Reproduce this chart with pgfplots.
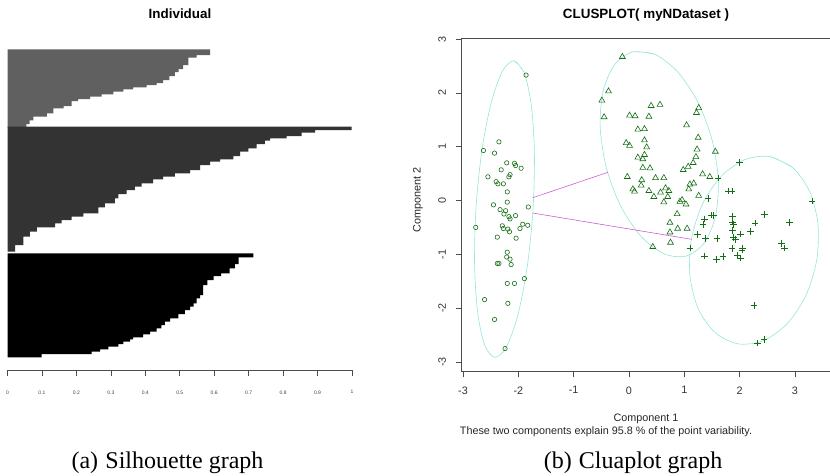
\documentclass[border=0pt]{standalone}
\usepackage{fontspec}
\setmainfont{Liberation Sans}
\newfontfamily\capfont{Liberation Serif}
\usepackage{pgfplots}
\pgfplotsset{compat=1.18}

\definecolor{silA}{RGB}{96,96,96}
\definecolor{silB}{RGB}{51,51,51}
\definecolor{ptgreen}{RGB}{20,110,20}
\definecolor{ellc}{RGB}{150,228,218}
\definecolor{linkc}{RGB}{205,95,205}

\begin{document}
\begin{tikzpicture}
\path[use as bounding box] (0pt,0pt) rectangle (830pt,-475pt);

% (a) silhouette widths, y = -(row of the bar)
\begin{axis}[
  at={(7.5pt,-370pt)}, anchor=south west,
  scale only axis, width=344.5pt, height=330pt,
  xmin=0, xmax=1, ymin=-370, ymax=-40,
  axis line style={draw=none},
  ytick=\empty,
  tick pos=left,
  xtick={0,0.1,0.2,0.3,0.4,0.5,0.6,0.7,0.8,0.9,1},
  xticklabels={0,0.1,0.2,0.3,0.4,0.5,0.6,0.7,0.8,0.9,1},
  tick align=outside, major tick length=6pt,
  major tick style={draw=black!70, line width=0.7pt},
  xticklabel style={font=\fontsize{5}{6}\selectfont, text=black!75},
  xticklabel shift=11pt,
  clip=false,
]
% axis line and its ticks
\addplot[black!70, line width=0.7pt] coordinates {(0,-370) (1,-370)};
\addplot[only marks, mark=|, mark size=3pt, black!70, mark options={line width=0.7pt}] coordinates {
  (0,-373) (0.1,-373) (0.2,-373) (0.3,-373) (0.4,-373) (0.5,-373)
  (0.6,-373) (0.7,-373) (0.8,-373) (0.9,-373) (1,-373)
};
\addplot[fill=silA, draw=none] coordinates {
  (0,-49.3) (0.588,-49.3) (0.588,-55) (0.549,-55) (0.549,-57.5) (0.525,-57.5)
  (0.525,-65) (0.510,-65) (0.510,-69) (0.497,-69) (0.497,-72) (0.486,-72)
  (0.486,-76) (0.470,-76) (0.470,-80) (0.452,-80) (0.452,-83) (0.433,-83)
  (0.433,-85) (0.404,-85) (0.404,-87.3) (0.365,-87.3) (0.365,-89.3) (0.336,-89.3)
  (0.336,-91.7) (0.307,-91.7) (0.307,-94.3) (0.273,-94.3) (0.273,-96.7) (0.240,-96.7)
  (0.240,-99) (0.205,-99) (0.205,-101) (0.186,-101) (0.186,-106) (0.163,-106)
  (0.163,-108.3) (0.133,-108.3) (0.133,-113.3) (0.114,-113.3) (0.114,-116.7) (0.075,-116.7)
  (0.075,-120.3) (0.064,-120.3) (0.064,-124) (0.055,-124) (0.055,-127.5) (0,-127.5)
};
\addplot[fill=silB, draw=none] coordinates {
  (0,-126.7) (0.999,-126.7) (0.999,-130) (0.893,-130) (0.893,-132.7) (0.854,-132.7)
  (0.854,-136) (0.810,-136) (0.810,-138.3) (0.762,-138.3) (0.762,-140.7) (0.747,-140.7)
  (0.747,-144) (0.723,-144) (0.723,-148.3) (0.699,-148.3) (0.699,-151.7) (0.675,-151.7)
  (0.675,-156) (0.656,-156) (0.656,-159.3) (0.617,-159.3) (0.617,-161.7) (0.588,-161.7)
  (0.588,-165) (0.559,-165) (0.559,-170) (0.530,-170) (0.530,-173.3) (0.486,-173.3)
  (0.486,-176.7) (0.452,-176.7) (0.452,-179.3) (0.423,-179.3) (0.423,-183.3) (0.389,-183.3)
  (0.389,-186.7) (0.370,-186.7) (0.370,-190) (0.346,-190) (0.346,-194) (0.322,-194)
  (0.322,-198.3) (0.312,-198.3) (0.312,-203.3) (0.283,-203.3) (0.283,-207.3) (0.264,-207.3)
  (0.264,-213.3) (0.220,-213.3) (0.220,-216.7) (0.186,-216.7) (0.186,-220) (0.157,-220)
  (0.157,-223.3) (0.138,-223.3) (0.138,-227.3) (0.085,-227.3) (0.085,-231.7) (0.065,-231.7)
  (0.065,-236.7) (0.046,-236.7) (0.046,-245) (0.022,-245) (0.022,-251.7) (0,-251.7)
};
\addplot[fill=black, draw=none] coordinates {
  (0,-253.3) (0.714,-253.3) (0.714,-257.3) (0.671,-257.3) (0.671,-264) (0.660,-264)
  (0.660,-268.3) (0.645,-268.3) (0.645,-273.3) (0.620,-273.3) (0.620,-276) (0.598,-276)
  (0.598,-280) (0.580,-280) (0.580,-285) (0.568,-285) (0.568,-295) (0.559,-295)
  (0.559,-298.3) (0.549,-298.3) (0.549,-303.3) (0.540,-303.3) (0.540,-306.7) (0.530,-306.7)
  (0.530,-310) (0.515,-310) (0.515,-314) (0.496,-314) (0.496,-318.3) (0.472,-318.3)
  (0.472,-321.7) (0.457,-321.7) (0.457,-325) (0.447,-325) (0.447,-328.3) (0.433,-328.3)
  (0.433,-331.7) (0.414,-331.7) (0.414,-334.3) (0.394,-334.3) (0.394,-337.3) (0.365,-337.3)
  (0.365,-339.3) (0.356,-339.3) (0.356,-341.7) (0.336,-341.7) (0.336,-344) (0.322,-344)
  (0.322,-346.7) (0.293,-346.7) (0.293,-349.3) (0.269,-349.3) (0.269,-351.7) (0.244,-351.7)
  (0.244,-354) (0.099,-354) (0.099,-357.3) (0,-357.3)
};
\end{axis}

% (b) clusplot
\begin{axis}[
  at={(461.5pt,-371pt)}, anchor=south west,
  scale only axis, width=372.2pt, height=333pt,
  xmin=-3.027, xmax=3.7, ymin=-3.167, ymax=3.019,
  axis line style={black!70, line width=0.6pt},
  tick pos=left, tick align=outside, major tick length=6pt,
  tick style={black!70, line width=0.6pt},
  xtick={-3,-2,-1,0,1,2,3}, xticklabels={-3,-2,-1,0,1,2,3},
  ytick={-3,-2,-1,0,1,2,3}, yticklabels={-3,-2,-1,0,1,2,3},
  ticklabel style={font=\fontsize{10.8}{12}\selectfont, text=black!80},
  yticklabel style={rotate=90, anchor=south},
  xticklabel shift=6pt, yticklabel shift=6pt,
  clip=false,
]
% cluster ellipses
\addplot[smooth, ellc, line width=0.6pt] coordinates {
  (-2.078,2.597) (-1.894,2.374) (-1.765,1.766) (-1.709,0.865) (-1.736,-0.192)
  (-1.841,-1.243) (-2.009,-2.130) (-2.212,-2.716) (-2.422,-2.913) (-2.606,-2.690)
  (-2.735,-2.082) (-2.791,-1.181) (-2.764,-0.124) (-2.659,0.927) (-2.491,1.814)
  (-2.288,2.400) (-2.078,2.597) (-1.894,2.374)
};
\addplot[smooth, ellc, line width=0.6pt] coordinates {
  (0.066,2.761) (0.469,2.715) (0.883,2.386) (1.246,1.827) (1.503,1.120)
  (1.614,0.375) (1.563,-0.296) (1.357,-0.791) (1.028,-1.033) (0.625,-0.987)
  (0.211,-0.658) (-0.152,-0.099) (-0.409,0.608) (-0.520,1.353) (-0.469,2.024)
  (-0.263,2.519) (0.066,2.761) (0.469,2.715)
};
\addplot[smooth, ellc, line width=0.6pt] coordinates {
  (2.552,0.816) (2.963,0.607) (3.266,0.165) (3.416,-0.443) (3.390,-1.124)
  (3.192,-1.775) (2.852,-2.295) (2.421,-2.607) (1.966,-2.662) (1.555,-2.453)
  (1.252,-2.011) (1.102,-1.403) (1.128,-0.722) (1.326,-0.071) (1.666,0.449)
  (2.097,0.761) (2.552,0.816) (2.963,0.607)
};
% distance segments between ellipses
\addplot[linkc, line width=0.6pt] coordinates {(-1.741,0.052) (-0.380,0.524)};
\addplot[linkc, line width=0.6pt] coordinates {(-1.741,-0.232) (1.133,-0.721)};
% cluster 1
\addplot[only marks, mark=o, mark size=2.2pt, ptgreen, mark options={line width=0.6pt}] coordinates {
  (-1.86,2.33) (-2.35,1.09) (-2.63,0.93) (-2.43,0.88) (-2.21,0.70) (-2.07,0.69)
  (-2.05,0.65) (-1.95,0.60) (-2.31,0.57) (-2.15,0.48) (-2.17,0.44) (-2.55,0.44)
  (-2.40,0.35) (-2.37,0.31) (-2.27,0.31) (-2.20,0.16) (-2.20,-0.03) (-2.45,-0.08)
  (-1.82,-0.12) (-2.33,-0.17) (-2.23,-0.19) (-2.26,-0.25) (-2.05,-0.28) (-2.17,-0.30)
  (-2.15,-0.34) (-2.77,-0.50) (-2.29,-0.47) (-2.27,-0.52) (-2.19,-0.53) (-2.16,-0.58)
  (-1.92,-0.44) (-1.83,-0.46) (-1.97,-0.52) (-2.38,-0.68) (-2.04,-0.70) (-2.20,-0.96)
  (-2.21,-1.05) (-2.15,-1.09) (-2.38,-1.17) (-2.35,-1.17) (-2.13,-1.19) (-1.89,-1.45)
  (-2.20,-1.54) (-2.07,-1.54) (-2.61,-1.84) (-2.19,-1.91) (-2.43,-2.21) (-2.24,-2.75)
};
% cluster 2
\addplot[only marks, mark=triangle, mark size=3.4pt, ptgreen, mark options={line width=0.6pt}] coordinates {
  (-0.12,2.67) (-0.37,2.03) (-0.49,1.86) (-0.45,1.55) (0.40,1.76) (0.56,1.78)
  (0.01,1.58) (0.11,1.57) (0.36,1.56) (1.26,1.72) (1.22,1.63) (1.04,1.40)
  (0.16,1.32) (0.28,1.33) (1.25,1.17) (0.28,1.12) (-0.05,1.07) (0.01,1.02)
  (0.32,0.99) (1.23,0.95) (1.56,0.91) (0.28,0.85) (0.16,0.80) (0.25,0.77)
  (1.21,0.81) (1.16,0.70) (1.07,0.63) (0.98,0.57) (0.25,0.61) (0.38,0.60)
  (-0.03,0.44) (0.23,0.38) (0.48,0.42) (0.63,0.42) (1.33,0.49) (1.46,0.44)
  (0.07,0.21) (0.10,0.17) (0.22,0.28) (0.36,0.18) (0.57,0.15) (0.66,0.23)
  (0.72,0.18) (0.45,0.07) (0.63,-0.03) (0.70,0.07) (1.10,0.30) (1.17,0.32)
  (1.08,0.21) (1.26,0.09) (0.92,-0.02) (0.96,0.01) (1.03,-0.07) (0.87,-0.25)
  (0.74,-0.41) (0.88,-0.52) (1.05,-0.52) (0.43,-0.86) (0.75,-0.78) (0.74,-0.59)
};
% cluster 3
\addplot[only marks, mark=+, mark size=3.3pt, ptgreen, mark options={line width=0.6pt}] coordinates {
  (2.00,0.71) (3.31,-0.01) (1.80,0.18) (1.86,0.18) (1.61,0.42) (1.43,0.04)
  (2.45,-0.26) (2.90,-0.41) (2.28,-0.42) (2.20,-0.57) (1.87,-0.30) (1.87,-0.40)
  (1.89,-0.44) (1.87,-0.56) (2.02,-0.62) (1.89,-0.69) (1.92,-0.72) (1.49,-0.27)
  (1.53,-0.28) (1.36,-0.34) (1.34,-0.44) (1.24,-0.63) (1.38,-0.71) (1.59,-0.70)
  (1.10,-0.88) (1.86,-0.89) (2.05,-0.88) (2.04,-0.92) (1.96,-1.01) (2.01,-1.07)
  (1.37,-1.03) (1.58,-1.09) (1.70,-1.04) (2.76,-0.80) (2.81,-0.88) (2.26,-1.95)
  (2.44,-2.58) (2.32,-2.65)
};
\end{axis}

% titles and labels
\node[font=\bfseries\fontsize{13.4}{15}\selectfont, anchor=base] at (180pt,-18pt) {Individual};
\node[font=\bfseries\fontsize{13.4}{15}\selectfont, anchor=base] at (646pt,-18pt) {CLUSPLOT( myNDataset )};
\node[font=\fontsize{10.8}{12}\selectfont, anchor=base, text=black!85] at (646pt,-421.7pt) {Component 1};
\node[font=\fontsize{10.8}{12}\selectfont, anchor=base, text=black!85] at (606pt,-434pt) {These two components explain 95.8 \% of the point variability.};
\node[font=\fontsize{10.8}{12}\selectfont, anchor=base, rotate=90, text=black!85] at (420.5pt,-200pt) {Component 2};
\node[font=\capfont\fontsize{24}{28}\selectfont, anchor=base] at (167.5pt,-468pt) {(a)\hspace{0.3em}Silhouette graph};
\node[font=\capfont\fontsize{24}{28}\selectfont, anchor=base] at (633pt,-468pt) {(b)\hspace{0.3em}Cluaplot graph};
\end{tikzpicture}
\end{document}
